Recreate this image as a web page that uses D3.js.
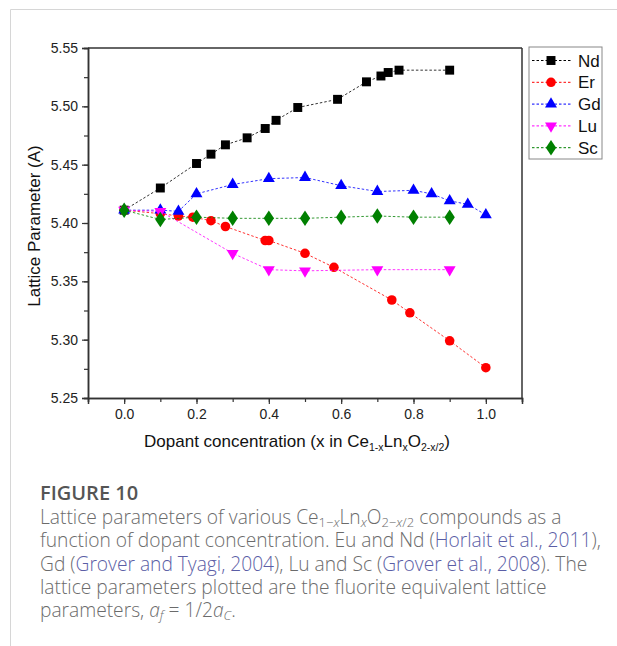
<!DOCTYPE html>
<html>
<head>
<meta charset="utf-8">
<script src="https://cdn.jsdelivr.net/npm/d3@7/dist/d3.min.js"></script>
<style>
  html, body { margin: 0; padding: 0; background: #fff; }
  svg { display: block; }
</style>
</head>
<body>
<svg id="chart" width="617" height="646"></svg>
<script>
// ---------------- DATA ----------------
const seriesNames = ["Nd", "Er", "Gd", "Lu", "Sc"];

const ndX = [0, 0.1, 0.2, 0.24, 0.28, 0.34, 0.39, 0.42, 0.48, 0.59, 0.67, 0.71, 0.73, 0.76, 0.9];
const ndY = [5.411, 5.430, 5.451, 5.459, 5.467, 5.473, 5.481, 5.488, 5.499, 5.506, 5.521, 5.526, 5.529, 5.531, 5.531];

const erX = [0, 0.1, 0.15, 0.19, 0.24, 0.28, 0.39, 0.4, 0.5, 0.58, 0.74, 0.79, 0.9, 1.0];
const erY = [5.411, 5.408, 5.406, 5.405, 5.402, 5.397, 5.385, 5.385, 5.374, 5.362, 5.334, 5.323, 5.299, 5.276];

const gdX = [0, 0.1, 0.15, 0.2, 0.3, 0.4, 0.5, 0.6, 0.7, 0.8, 0.85, 0.9, 0.95, 1.0];
const gdY = [5.411, 5.411, 5.410, 5.425, 5.433, 5.438, 5.439, 5.432, 5.427, 5.428, 5.425, 5.419, 5.416, 5.407];

const luX = [0, 0.1, 0.3, 0.4, 0.5, 0.7, 0.9];
const luY = [5.411, 5.410, 5.374, 5.360, 5.359, 5.360, 5.360];

const scX = [0, 0.1, 0.2, 0.3, 0.4, 0.5, 0.6, 0.7, 0.8, 0.9];
const scY = [5.411, 5.403, 5.405, 5.404, 5.404, 5.404, 5.405, 5.406, 5.405, 5.405];

const xTicks = [0.0, 0.2, 0.4, 0.6, 0.8, 1.0];
const yTicks = [5.25, 5.30, 5.35, 5.40, 5.45, 5.50, 5.55];

const seriesColors = ["#000000", "#ff0000", "#0000ff", "#ff00ff", "#008000"];
const seriesSymbols = ["square", "circle", "triangle", "triangleDown", "diamond"];

// ---------------- LAYOUT ----------------
const svg = d3.select("#chart");
const pL = 88, pR = 522, pT = 48, pB = 398;

const x = d3.scaleLinear().domain([-0.1, 1.1]).range([pL, pR]);
const y = d3.scaleLinear().domain([5.25, 5.55]).range([pB, pT]);

const axisFont = "'Liberation Sans', Arial, sans-serif";

// outer frame lines (page decoration)
svg.append("line").attr("x1", 10.5).attr("y1", 9.5).attr("x2", 617).attr("y2", 9.5)
  .attr("stroke", "#d6d6d6").attr("stroke-width", 1);
svg.append("line").attr("x1", 10.5).attr("y1", 9.5).attr("x2", 10.5).attr("y2", 646)
  .attr("stroke", "#d6d6d6").attr("stroke-width", 1);

// ---------------- AXES ----------------
const axisColor = "#333";
const xMinor = d3.range(-0.1, 1.1001, 0.1).map(v => +v.toFixed(2));
const yMinor = d3.range(5.25, 5.5501, 0.025).map(v => +v.toFixed(3));

const gx = svg.append("g").attr("transform", `translate(0,${pB})`)
  .call(d3.axisBottom(x).tickValues(xMinor).tickSize(4).tickFormat(""));
const gx2 = svg.append("g").attr("transform", `translate(0,${pB})`)
  .call(d3.axisBottom(x).tickValues(xTicks).tickSize(6).tickPadding(5).tickFormat(d3.format(".1f")));
const gy = svg.append("g").attr("transform", `translate(${pL},0)`)
  .call(d3.axisLeft(y).tickValues(yMinor).tickSize(4).tickFormat(""));
const gy2 = svg.append("g").attr("transform", `translate(${pL},0)`)
  .call(d3.axisLeft(y).tickValues(yTicks).tickSize(6).tickPadding(4).tickFormat(d3.format(".2f")));

[gx, gx2, gy, gy2].forEach(g => {
  g.selectAll("path").attr("stroke", axisColor).attr("stroke-width", 1.5);
  g.selectAll("line").attr("stroke", axisColor).attr("stroke-width", 1.2);
  g.selectAll("text").attr("font-family", axisFont).attr("font-size", 14).attr("fill", "#222");
});

svg.append("line").attr("x1", pL).attr("x2", pR).attr("y1", pT).attr("y2", pT)
  .attr("stroke", axisColor).attr("stroke-width", 1.5);
svg.append("line").attr("x1", pR).attr("x2", pR).attr("y1", pT).attr("y2", pB)
  .attr("stroke", axisColor).attr("stroke-width", 1.5);

// axis titles
svg.append("text")
  .attr("transform", `translate(40,${(pT + pB) / 2 + 3}) rotate(-90)`)
  .attr("text-anchor", "middle")
  .attr("font-family", axisFont).attr("font-size", 17).attr("fill", "#111")
  .text("Lattice Parameter (A)");

function richText(sel, parts, subSize, shift) {
  let level = 0;
  parts.forEach(p => {
    const lv = p.sub ? 1 : 0;
    const s = sel.append("tspan").text(p.t);
    if (lv !== level) s.attr("dy", (lv - level) * shift);
    level = lv;
    if (p.sub) s.attr("font-size", subSize);
    if (p.i) s.attr("font-style", "italic");
    if (p.c) s.attr("fill", p.c);
  });
}

const xt = svg.append("text")
  .attr("x", (pL + pR) / 2 - 8).attr("y", 447)
  .attr("text-anchor", "middle")
  .attr("font-family", axisFont).attr("font-size", 17).attr("fill", "#111");
richText(xt, [
  { t: "Dopant concentration (x in Ce" }, { t: "1-x", sub: true },
  { t: "Ln" }, { t: "x", sub: true }, { t: "O" }, { t: "2-x/2", sub: true }, { t: ")" }
], 10.5, 4);

// ---------------- SERIES ----------------
const symType = {
  square: d3.symbolSquare,
  circle: d3.symbolCircle,
  triangle: d3.symbolTriangle,
  triangleDown: d3.symbolTriangle,
  diamond: d3.symbolDiamond
};
const symSize = { square: 80, circle: 72, triangle: 62, triangleDown: 62, diamond: 70 };

function marker(g, sym, color, cx, cy) {
  const p = g.append("path")
    .attr("d", d3.symbol().type(symType[sym]).size(symSize[sym])())
    .attr("fill", color);
  let tr = `translate(${cx},${cy})`;
  if (sym === "triangleDown") tr += " rotate(180)";
  if (sym === "diamond") tr += " scale(1.15,1)";
  p.attr("transform", tr);
}

const allX = [ndX, erX, gdX, luX, scX];
const allY = [ndY, erY, gdY, luY, scY];

const line = d3.line().x(d => x(d[0])).y(d => y(d[1]));

seriesNames.forEach((name, i) => {
  const pts = allX[i].map((v, j) => [v, allY[i][j]]);
  const g = svg.append("g");
  g.append("path").datum(pts).attr("d", line)
    .attr("fill", "none").attr("stroke", seriesColors[i])
    .attr("stroke-width", 1).attr("stroke-dasharray", "2.5,2").attr("opacity", 0.8);
  pts.forEach(p => marker(g, seriesSymbols[i], seriesColors[i], x(p[0]), y(p[1])));
});

// ---------------- LEGEND ----------------
const lg = svg.append("g");
lg.append("rect").attr("x", 529).attr("y", 47).attr("width", 73).attr("height", 112)
  .attr("fill", "#fff").attr("stroke", "#888").attr("stroke-width", 1);
seriesNames.forEach((name, i) => {
  const cy = 60.5 + i * 21.8;
  lg.append("line").attr("x1", 532).attr("x2", 572).attr("y1", cy).attr("y2", cy)
    .attr("stroke", seriesColors[i]).attr("stroke-width", 1).attr("stroke-dasharray", "2.5,2");
  marker(lg, seriesSymbols[i], seriesColors[i], 551, cy);
  lg.append("text").attr("x", 578).attr("y", cy + 6)
    .attr("font-family", axisFont).attr("font-size", 17).attr("fill", "#111").text(name);
});

// ---------------- CAPTION ----------------
const capFont = "'Open Sans', 'Noto Sans', sans-serif";
const capColor = "#6b6b6b";
const linkColor = "#5b5ea6";

svg.append("text").attr("x", 40).attr("y", 500)
  .attr("font-family", capFont).attr("font-size", 20).attr("font-weight", 600)
  .attr("fill", "#555").text("FIGURE 10");

function capLine(yy, parts) {
  const t = svg.append("text").attr("x", 40).attr("y", yy)
    .attr("font-family", capFont).attr("font-size", 19.2).attr("font-weight", 300)
    .attr("fill", capColor);
  richText(t, parts, 13, 3);
  return t;
}

capLine(524, [
  { t: "Lattice parameters of various Ce" },
  { t: "1\u2212", sub: true }, { t: "x", i: true, sub: true },
  { t: "Ln" }, { t: "x", i: true, sub: true },
  { t: "O" }, { t: "2\u2212", sub: true }, { t: "x", i: true, sub: true }, { t: "/2", sub: true },
  { t: " compounds as a" }
]);
capLine(547, [
  { t: "function of dopant concentration. Eu and Nd (" },
  { t: "Horlait et al., 2011", c: linkColor }, { t: ")," }
]);
capLine(571, [
  { t: "Gd (" }, { t: "Grover and Tyagi, 2004", c: linkColor },
  { t: "), Lu and Sc (" }, { t: "Grover et al., 2008", c: linkColor }, { t: "). The" }
]);
capLine(594, [{ t: "lattice parameters plotted are the fluorite equivalent lattice" }]);
capLine(617, [
  { t: "parameters, " }, { t: "a", i: true }, { t: "f", i: true, sub: true },
  { t: " = 1/2" }, { t: "a", i: true }, { t: "C", i: true, sub: true }, { t: "." }
]);
</script>
</body>
</html>
